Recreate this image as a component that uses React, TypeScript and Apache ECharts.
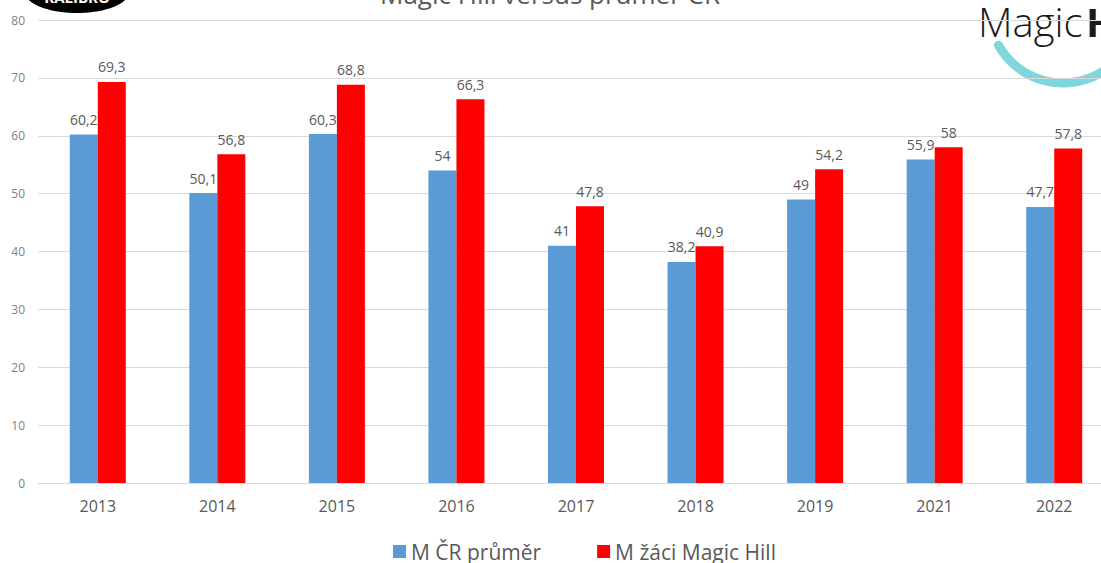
import React, { useEffect, useRef } from "react";
import * as echarts from "echarts";

const years = ["2013", "2014", "2015", "2016", "2017", "2018", "2019", "2021", "2022"];
const crAverage = [60.2, 50.1, 60.3, 54, 41, 38.2, 49, 55.9, 47.7];
const magicHill = [69.3, 56.8, 68.8, 66.3, 47.8, 40.9, 54.2, 58, 57.8];
const seriesNames = ["M ČR průměr", "M žáci Magic Hill"];
const titleText = "Magic Hill versus průměr ČR";

const FONT = "'Open Sans', 'Liberation Sans', sans-serif";

export default function App() {
  const ref = useRef<HTMLDivElement>(null);
  useEffect(() => {
    if (!ref.current) return;
    const chart = echarts.init(ref.current, null, { renderer: "svg" });
    const label = {
      show: true,
      position: "top",
      distance: 8,
      color: "#595959",
      fontSize: 14,
      fontFamily: FONT,
      formatter: (p: any) => String(p.value).replace(".", ","),
    };
    chart.setOption({
      animation: false,
      backgroundColor: "#ffffff",
      textStyle: { fontFamily: FONT },
      grid: { left: 38, top: 20, width: 1076, height: 463, containLabel: false },
      legend: {
        left: 388,
        top: 536,
        itemWidth: 13,
        itemHeight: 13,
        itemGap: 56,
        icon: "rect",
        textStyle: { fontSize: 21, color: "#595959", fontFamily: FONT },
        data: seriesNames,
      },
      xAxis: {
        type: "category",
        data: years,
        axisTick: { show: false },
        axisLine: { lineStyle: { color: "#d9d9d9" } },
        axisLabel: { color: "#595959", fontSize: 16, margin: 15, fontFamily: FONT },
      },
      yAxis: {
        type: "value",
        min: 0,
        max: 80,
        interval: 10,
        axisLabel: { color: "#7f7f7f", fontSize: 12, margin: 13, fontFamily: FONT },
        splitLine: { lineStyle: { color: "#d9d9d9" } },
        axisLine: { show: false },
        axisTick: { show: false },
      },
      series: [
        {
          name: seriesNames[0],
          type: "bar",
          data: crAverage,
          barWidth: 28,
          barGap: "0%",
          itemStyle: { color: "#5b9bd5" },
          label,
        },
        {
          name: seriesNames[1],
          type: "bar",
          data: magicHill,
          barWidth: 28,
          barGap: "0%",
          itemStyle: { color: "#ff0000" },
          label,
        },
      ],
      graphic: [
        {
          type: "text",
          x: 550,
          y: -19,
          style: {
            text: titleText,
            fontSize: 26,
            fill: "#595959",
            fontFamily: FONT,
            align: "center",
          },
        },
        {
          type: "ellipse",
          shape: { cx: 77, cy: -8, rx: 52, ry: 21 },
          style: { fill: "#000000" },
        },
        {
          type: "text",
          x: 77,
          y: -3,
          style: {
            text: "KALIBRO",
            fontSize: 15,
            fontWeight: "bold",
            fill: "#ffffff",
            align: "center",
            verticalAlign: "middle",
            fontFamily: FONT,
          },
        },
        {
          type: "rect",
          shape: { x: 977, y: 0, width: 160, height: 88 },
          style: { fill: "#ffffff" },
        },
        {
          type: "arc",
          shape: { cx: 1063, cy: 9, r: 74, startAngle: 1.0, endAngle: 2.63 },
          style: { stroke: "#7fd6dd", lineWidth: 9, fill: "none", lineCap: "round" },
        },
        {
          type: "text",
          x: 978,
          y: 41,
          style: {
            text: "Magic",
            fontSize: 40,
            fill: "#1a1a1a",
            fontFamily: FONT,
            fontWeight: 300,
            verticalAlign: "bottom",
          },
        },
        {
          type: "text",
          x: 1086,
          y: 41,
          style: {
            text: "H",
            fontSize: 40,
            fill: "#1a1a1a",
            fontFamily: FONT,
            fontWeight: "bold",
            verticalAlign: "bottom",
          },
        },
      ],
    });
    return () => chart.dispose();
  }, []);
  return (
    <div
      style={{
        position: "absolute",
        left: 0,
        top: 0,
        width: 1101,
        height: 563,
        overflow: "hidden",
      }}
    >
      <div ref={ref} style={{ width: 1130, height: 563 }} />
    </div>
  );
}
